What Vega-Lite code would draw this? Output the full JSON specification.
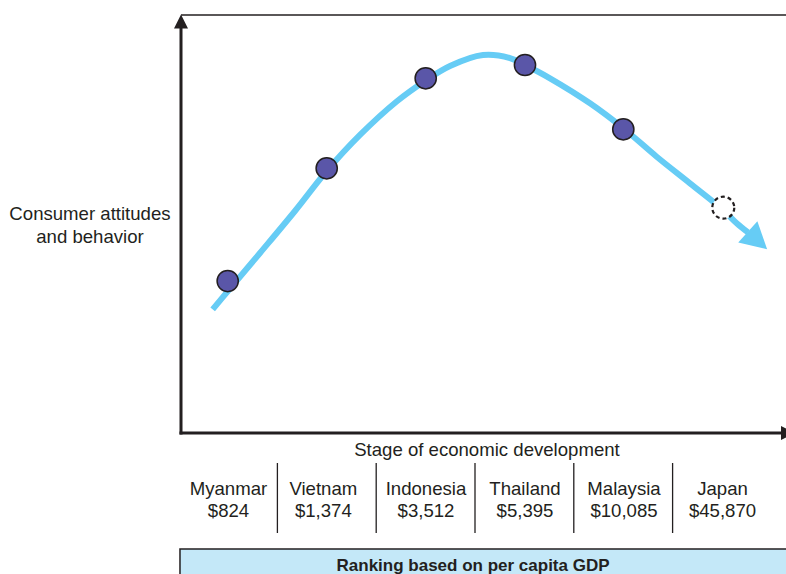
{
  "$schema": "https://vega.github.io/schema/vega-lite/v6.json",
  "width": 786,
  "height": 574,
  "autosize": {"type": "none"},
  "padding": 0,
  "background": "white",
  "config": {"view": {"stroke": null}},
  "datasets": {
    "box": [{"x": 0.514, "x2": 7.5, "y": -27.75, "y2": -45}],
    "axes": [
      {"x": 0.5243, "x2": 6.6, "y": 0, "y2": 0},
      {"x": 0.5243, "x2": 0.5243, "y": 0, "y2": 96.9}
    ],
    "topline": [{"x": 0.5243, "x2": 6.6478, "y": 100, "y2": 100}],
    "seps": [
      {"x": 1.5, "x2": 1.5, "y": -7.18, "y2": -23.92},
      {"x": 2.5, "x2": 2.5, "y": -7.18, "y2": -23.92},
      {"x": 3.5, "x2": 3.5, "y": -7.18, "y2": -23.92},
      {"x": 4.5, "x2": 4.5, "y": -7.18, "y2": -23.92},
      {"x": 5.5, "x2": 5.5, "y": -7.18, "y2": -23.92}
    ],
    "yarrow": [{"x": 0.5243, "y": 98.44}],
    "xarrow": [{"x": 6.668, "y": 0}],
    "curve": [
      {"x": 0.845, "y": 29.59},
      {"x": 1.0, "y": 33.97},
      {"x": 1.324, "y": 43.06},
      {"x": 1.678, "y": 53.11},
      {"x": 1.999, "y": 62.68},
      {"x": 2.336, "y": 71.3},
      {"x": 2.707, "y": 79.3},
      {"x": 2.994, "y": 84.21},
      {"x": 3.247, "y": 87.8},
      {"x": 3.581, "y": 90.43},
      {"x": 3.854, "y": 89.71},
      {"x": 4.006, "y": 88.04},
      {"x": 4.259, "y": 84.86},
      {"x": 4.664, "y": 78.88},
      {"x": 4.998, "y": 72.97},
      {"x": 5.339, "y": 66.1},
      {"x": 5.676, "y": 59.74},
      {"x": 6.0, "y": 53.59},
      {"x": 6.149, "y": 50.17},
      {"x": 6.263, "y": 47.97}
    ],
    "head": [{"x": 6.359, "y": 46.05}],
    "points": [
      {"country": "Myanmar", "x": 0.997, "y": 36.36},
      {"country": "Vietnam", "x": 1.999, "y": 63.33},
      {"country": "Indonesia", "x": 3.001, "y": 84.86},
      {"country": "Thailand", "x": 4.006, "y": 88.04},
      {"country": "Malaysia", "x": 5.001, "y": 72.66}
    ],
    "japan": [{"country": "Japan", "x": 6.013, "y": 53.9}],
    "texts": [
      {"x": -0.397, "y": 52.39, "t": "Consumer attitudes"},
      {"x": -0.397, "y": 46.89, "t": "and behavior"},
      {"x": 3.621, "y": -4.07, "t": "Stage of economic development"},
      {"x": 1.005, "y": -13.4, "t": "Myanmar"},
      {"x": 1.965, "y": -13.4, "t": "Vietnam"},
      {"x": 3.004, "y": -13.4, "t": "Indonesia"},
      {"x": 4.006, "y": -13.4, "t": "Thailand"},
      {"x": 5.008, "y": -13.4, "t": "Malaysia"},
      {"x": 6.005, "y": -13.4, "t": "Japan"},
      {"x": 1.005, "y": -18.66, "t": "$824"},
      {"x": 1.965, "y": -18.66, "t": "$1,374"},
      {"x": 3.004, "y": -18.66, "t": "$3,512"},
      {"x": 4.006, "y": -18.66, "t": "$5,395"},
      {"x": 5.008, "y": -18.66, "t": "$10,085"},
      {"x": 6.005, "y": -18.66, "t": "$45,870"}
    ],
    "boxtext": [{"x": 3.48, "y": -31.9, "t": "Ranking based on per capita GDP"}]
  },
  "layer": [
    {
      "data": {"name": "box"},
      "mark": {"type": "rect", "fill": "#C4E8F8", "stroke": "#231F20", "strokeWidth": 1.5, "clip": true},
      "encoding": {
        "x": {"field": "x", "type": "quantitative", "scale": {"domain": [-1.3077, 6.6478], "nice": false, "zero": false}, "axis": null},
        "x2": {"field": "x2"},
        "y": {"field": "y", "type": "quantitative", "scale": {"domain": [-33.73, 103.59], "nice": false, "zero": false}, "axis": null},
        "y2": {"field": "y2"}
      }
    },
    {
      "data": {"name": "axes"},
      "mark": {"type": "rule", "stroke": "#231F20", "strokeWidth": 3, "strokeCap": "square"},
      "encoding": {
        "x": {"field": "x", "type": "quantitative", "scale": {"domain": [-1.3077, 6.6478], "nice": false, "zero": false}, "axis": null},
        "x2": {"field": "x2"},
        "y": {"field": "y", "type": "quantitative", "scale": {"domain": [-33.73, 103.59], "nice": false, "zero": false}, "axis": null},
        "y2": {"field": "y2"}
      }
    },
    {
      "data": {"name": "topline"},
      "mark": {"type": "rule", "stroke": "#231F20", "strokeWidth": 1.3},
      "encoding": {
        "x": {"field": "x", "type": "quantitative", "scale": {"domain": [-1.3077, 6.6478], "nice": false, "zero": false}, "axis": null},
        "x2": {"field": "x2"},
        "y": {"field": "y", "type": "quantitative", "scale": {"domain": [-33.73, 103.59], "nice": false, "zero": false}, "axis": null},
        "y2": {"field": "y2"}
      }
    },
    {
      "data": {"name": "seps"},
      "mark": {"type": "rule", "stroke": "#231F20", "strokeWidth": 1.3},
      "encoding": {
        "x": {"field": "x", "type": "quantitative", "scale": {"domain": [-1.3077, 6.6478], "nice": false, "zero": false}, "axis": null},
        "x2": {"field": "x2"},
        "y": {"field": "y", "type": "quantitative", "scale": {"domain": [-33.73, 103.59], "nice": false, "zero": false}, "axis": null},
        "y2": {"field": "y2"}
      }
    },
    {
      "data": {"name": "yarrow"},
      "mark": {"type": "point", "shape": "M0,-1L1,1L-1,1Z", "filled": true, "fill": "#231F20", "opacity": 1, "size": 196},
      "encoding": {
        "x": {"field": "x", "type": "quantitative", "scale": {"domain": [-1.3077, 6.6478], "nice": false, "zero": false}, "axis": null},
        "y": {"field": "y", "type": "quantitative", "scale": {"domain": [-33.73, 103.59], "nice": false, "zero": false}, "axis": null}
      }
    },
    {
      "data": {"name": "xarrow"},
      "mark": {"type": "point", "shape": "M1,0L-1,-1L-1,1Z", "filled": true, "fill": "#231F20", "opacity": 1, "size": 196},
      "encoding": {
        "x": {"field": "x", "type": "quantitative", "scale": {"domain": [-1.3077, 6.6478], "nice": false, "zero": false}, "axis": null},
        "y": {"field": "y", "type": "quantitative", "scale": {"domain": [-33.73, 103.59], "nice": false, "zero": false}, "axis": null}
      }
    },
    {
      "data": {"name": "curve"},
      "mark": {"type": "line", "stroke": "#66CCF5", "strokeWidth": 6, "interpolate": "catmull-rom", "strokeCap": "butt"},
      "encoding": {
        "x": {"field": "x", "type": "quantitative", "scale": {"domain": [-1.3077, 6.6478], "nice": false, "zero": false}, "axis": null},
        "y": {"field": "y", "type": "quantitative", "scale": {"domain": [-33.73, 103.59], "nice": false, "zero": false}, "axis": null}
      }
    },
    {
      "data": {"name": "head"},
      "mark": {"type": "point", "shape": "M1,0L-1,-1.1L-1,1.1Z", "filled": true, "fill": "#66CCF5", "opacity": 1, "size": 676, "angle": 42},
      "encoding": {
        "x": {"field": "x", "type": "quantitative", "scale": {"domain": [-1.3077, 6.6478], "nice": false, "zero": false}, "axis": null},
        "y": {"field": "y", "type": "quantitative", "scale": {"domain": [-33.73, 103.59], "nice": false, "zero": false}, "axis": null}
      }
    },
    {
      "data": {"name": "points"},
      "mark": {"type": "point", "shape": "circle", "filled": true, "fill": "#5A56A8", "stroke": "#231F20", "strokeWidth": 1.5, "opacity": 1, "size": 450},
      "encoding": {
        "x": {"field": "x", "type": "quantitative", "scale": {"domain": [-1.3077, 6.6478], "nice": false, "zero": false}, "axis": null},
        "y": {"field": "y", "type": "quantitative", "scale": {"domain": [-33.73, 103.59], "nice": false, "zero": false}, "axis": null}
      }
    },
    {
      "data": {"name": "japan"},
      "mark": {"type": "point", "shape": "circle", "filled": true, "fill": "white", "stroke": "#231F20", "strokeWidth": 2.2, "strokeDash": [4, 3], "opacity": 1, "size": 484},
      "encoding": {
        "x": {"field": "x", "type": "quantitative", "scale": {"domain": [-1.3077, 6.6478], "nice": false, "zero": false}, "axis": null},
        "y": {"field": "y", "type": "quantitative", "scale": {"domain": [-33.73, 103.59], "nice": false, "zero": false}, "axis": null}
      }
    },
    {
      "data": {"name": "texts"},
      "mark": {"type": "text", "font": "Liberation Sans", "fontSize": 18.6, "fill": "#231F20", "align": "center", "baseline": "middle"},
      "encoding": {
        "x": {"field": "x", "type": "quantitative", "scale": {"domain": [-1.3077, 6.6478], "nice": false, "zero": false}, "axis": null},
        "y": {"field": "y", "type": "quantitative", "scale": {"domain": [-33.73, 103.59], "nice": false, "zero": false}, "axis": null},
        "text": {"field": "t", "type": "nominal"}
      }
    },
    {
      "data": {"name": "boxtext"},
      "mark": {"type": "text", "font": "Liberation Sans", "fontSize": 17, "fontWeight": "bold", "fill": "#231F20", "align": "center", "baseline": "middle"},
      "encoding": {
        "x": {"field": "x", "type": "quantitative", "scale": {"domain": [-1.3077, 6.6478], "nice": false, "zero": false}, "axis": null},
        "y": {"field": "y", "type": "quantitative", "scale": {"domain": [-33.73, 103.59], "nice": false, "zero": false}, "axis": null},
        "text": {"field": "t", "type": "nominal"}
      }
    }
  ]
}
